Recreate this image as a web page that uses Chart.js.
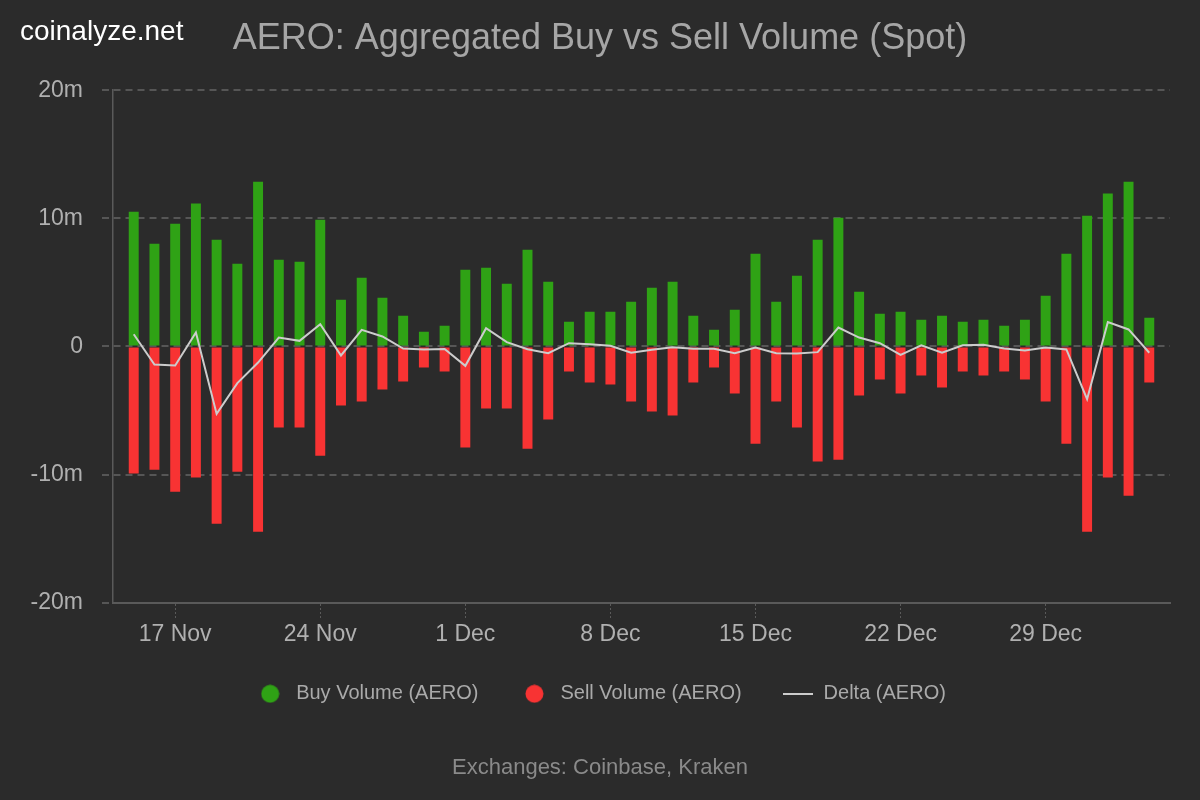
<!DOCTYPE html>
<html>
<head>
<meta charset="utf-8">
<title>AERO: Aggregated Buy vs Sell Volume (Spot)</title>
<script src="https://cdn.jsdelivr.net/npm/chart.js@4.4.1/dist/chart.umd.min.js"></script>
<style>
    html, body { margin: 0; padding: 0; background: #2b2b2b; }
    #wrap { position: relative; width: 1200px; height: 800px; }
    #brand {
        position: absolute; left: 20px; top: 14px;
        font: 28px "Liberation Sans", Arial, sans-serif; line-height: 34px;
        color: #ffffff;
    }
</style>
</head>
<body>
<div id="wrap">
    <canvas id="volumeChart" width="1200" height="800"></canvas>
    <div id="brand">coinalyze.net</div>
</div>
<script>
// One label per daily bar, 15 Nov - 3 Jan
const days = [
    '15 Nov', '16 Nov', '17 Nov', '18 Nov', '19 Nov', '20 Nov', '21 Nov', '22 Nov',
    '23 Nov', '24 Nov', '25 Nov', '26 Nov', '27 Nov', '28 Nov', '29 Nov', '30 Nov',
    '1 Dec', '2 Dec', '3 Dec', '4 Dec', '5 Dec', '6 Dec', '7 Dec', '8 Dec',
    '9 Dec', '10 Dec', '11 Dec', '12 Dec', '13 Dec', '14 Dec', '15 Dec', '16 Dec',
    '17 Dec', '18 Dec', '19 Dec', '20 Dec', '21 Dec', '22 Dec', '23 Dec', '24 Dec',
    '25 Dec', '26 Dec', '27 Dec', '28 Dec', '29 Dec', '30 Dec', '31 Dec',
    '1 Jan', '2 Jan', '3 Jan'
];

// Labels shown on the x axis
const tickLabels = ['17 Nov', '24 Nov', '1 Dec', '8 Dec', '15 Dec', '22 Dec', '29 Dec'];

// Values in millions of AERO
const buyVolume = [
    10.52, 8.02, 9.58, 11.15, 8.33, 6.46, 12.86, 6.77, 6.61, 9.90,
    3.65, 5.36, 3.80, 2.40, 1.15, 1.61, 5.99, 6.15, 4.90, 7.55,
    5.05, 1.93, 2.71, 2.71, 3.49, 4.58, 5.05, 2.40, 1.30, 2.86,
    7.24, 3.49, 5.52, 8.33, 10.05, 4.27, 2.55, 2.71, 2.08, 2.40,
    1.93, 2.08, 1.61, 2.08, 3.96, 7.24, 10.21, 11.93, 12.86, 2.24
];

const sellVolume = [
    -9.92, -9.61, -11.33, -10.23, -13.83, -9.77, -14.45, -6.33, -6.33, -8.52,
    -4.61, -4.30, -3.36, -2.73, -1.64, -1.95, -7.89, -4.84, -4.84, -7.97,
    -5.70, -1.95, -2.81, -2.97, -4.30, -5.08, -5.39, -2.81, -1.64, -3.67,
    -7.58, -4.30, -6.33, -8.98, -8.83, -3.83, -2.58, -3.67, -2.27, -3.20,
    -1.95, -2.27, -1.95, -2.58, -4.30, -7.58, -14.45, -10.23, -11.64, -2.81
];

const delta = [
    0.96, -1.41, -1.48, 1.09, -5.26, -2.86, -1.25, 0.70, 0.44, 1.74,
    -0.70, 1.30, 0.78, -0.16, -0.23, -0.20, -1.51, 1.43, 0.34, -0.21,
    -0.52, 0.26, 0.18, 0.05, -0.49, -0.26, -0.05, -0.18, -0.18, -0.52,
    -0.08, -0.52, -0.55, -0.44, 1.48, 0.70, 0.26, -0.65, 0.10, -0.49,
    0.10, 0.13, -0.16, -0.31, -0.08, -0.23, -4.11, 1.90, 1.33, -0.49
];

const yTicks = [-20, -10, 0, 10, 20];

const buyColor = '#2fa215';
const sellColor = '#f83333';
const deltaColor = '#cccccc';

// Pair each value with its day index for the linear x axis
function toPoints(values) {
    return values.map((v, i) => ({ x: i, y: v }));
}

// Legend markers drawn as small images so the dot/line size is fixed
function dotMarker(color) {
    const c = document.createElement('canvas');
    c.width = 19;
    c.height = 19;
    const g = c.getContext('2d');
    g.fillStyle = color;
    g.beginPath();
    g.arc(9.5, 9.5, 9, 0, Math.PI * 2);
    g.fill();
    return c;
}

function lineMarker(color) {
    const c = document.createElement('canvas');
    c.width = 30;
    c.height = 2;
    const g = c.getContext('2d');
    g.fillStyle = color;
    g.fillRect(0, 0, 30, 2);
    return c;
}

const legendMarkers = [dotMarker(buyColor), dotMarker(sellColor), lineMarker(deltaColor)];

Chart.defaults.font.family = '"Liberation Sans", Arial, sans-serif';
Chart.defaults.animation = false;

const ctx = document.getElementById('volumeChart').getContext('2d');

new Chart(ctx, {
    type: 'bar',
    data: {
        datasets: [
            {
                label: 'Buy Volume (AERO)',
                data: toPoints(buyVolume),
                backgroundColor: buyColor,
                borderWidth: 0,
                grouped: false,
                categoryPercentage: 1,
                barPercentage: 0.48,
                order: 1
            },
            {
                label: 'Sell Volume (AERO)',
                data: toPoints(sellVolume),
                backgroundColor: sellColor,
                borderWidth: 0,
                grouped: false,
                categoryPercentage: 1,
                barPercentage: 0.48,
                order: 1
            },
            {
                type: 'line',
                label: 'Delta (AERO)',
                data: toPoints(delta),
                borderColor: deltaColor,
                borderWidth: 2,
                pointRadius: 0,
                tension: 0,
                order: 0
            }
        ]
    },
    options: {
        responsive: false,
        layout: {
            padding: { left: 30, right: 30, top: 0, bottom: 0 }
        },
        scales: {
            x: {
                type: 'linear',
                min: -1,
                max: days.length,
                offset: false,
                afterBuildTicks: scale => {
                    scale.ticks = tickLabels.map(l => ({ value: days.indexOf(l) }));
                },
                afterFit: scale => {
                    scale.height = 41;
                },
                ticks: {
                    autoSkip: false,
                    maxRotation: 0,
                    padding: 4,
                    color: '#b0b0b0',
                    font: { size: 23, lineHeight: 1 },
                    callback: value => days[value]
                },
                grid: {
                    offset: false,
                    drawOnChartArea: false,
                    drawTicks: true,
                    tickLength: 16,
                    tickColor: '#5a5a5a',
                    tickBorderDash: [2, 2]
                },
                border: { display: true, color: '#5a5a5a', width: 2 }
            },
            y: {
                min: -20,
                max: 20,
                afterBuildTicks: scale => {
                    scale.ticks = yTicks.map(v => ({ value: v }));
                },
                afterFit: scale => {
                    scale.width = 83;
                },
                ticks: {
                    padding: 19,
                    color: '#b0b0b0',
                    font: { size: 23 },
                    callback: value => value === 0 ? '0' : value + 'm'
                },
                grid: {
                    color: '#565656',
                    lineWidth: 2,
                    tickLength: 11,
                    tickBorderDash: [7, 5]
                },
                border: { display: true, color: '#5a5a5a', width: 1.5, dash: [7, 5] }
            }
        },
        plugins: {
            title: {
                display: true,
                text: 'AERO: Aggregated Buy vs Sell Volume (Spot)',
                color: '#a6a6a6',
                font: { size: 36, weight: 'normal' },
                padding: { top: 17, bottom: 30 }
            },
            subtitle: {
                display: true,
                position: 'bottom',
                text: 'Exchanges: Coinbase, Kraken',
                color: '#8a8a8a',
                font: { size: 22, weight: 'normal' },
                padding: { top: 40.8, bottom: 19 }
            },
            legend: {
                position: 'bottom',
                labels: {
                    color: '#aaaaaa',
                    font: { size: 20 },
                    usePointStyle: true,
                    pointStyleWidth: 32,
                    padding: 40,
                    sort: (a, b) => a.datasetIndex - b.datasetIndex,
                    generateLabels: chart => {
                        const items = Chart.defaults.plugins.legend.labels.generateLabels(chart);
                        items.forEach(item => {
                            item.pointStyle = legendMarkers[item.datasetIndex];
                        });
                        return items;
                    }
                }
            },
            tooltip: { enabled: false }
        }
    }
});
</script>
</body>
</html>
